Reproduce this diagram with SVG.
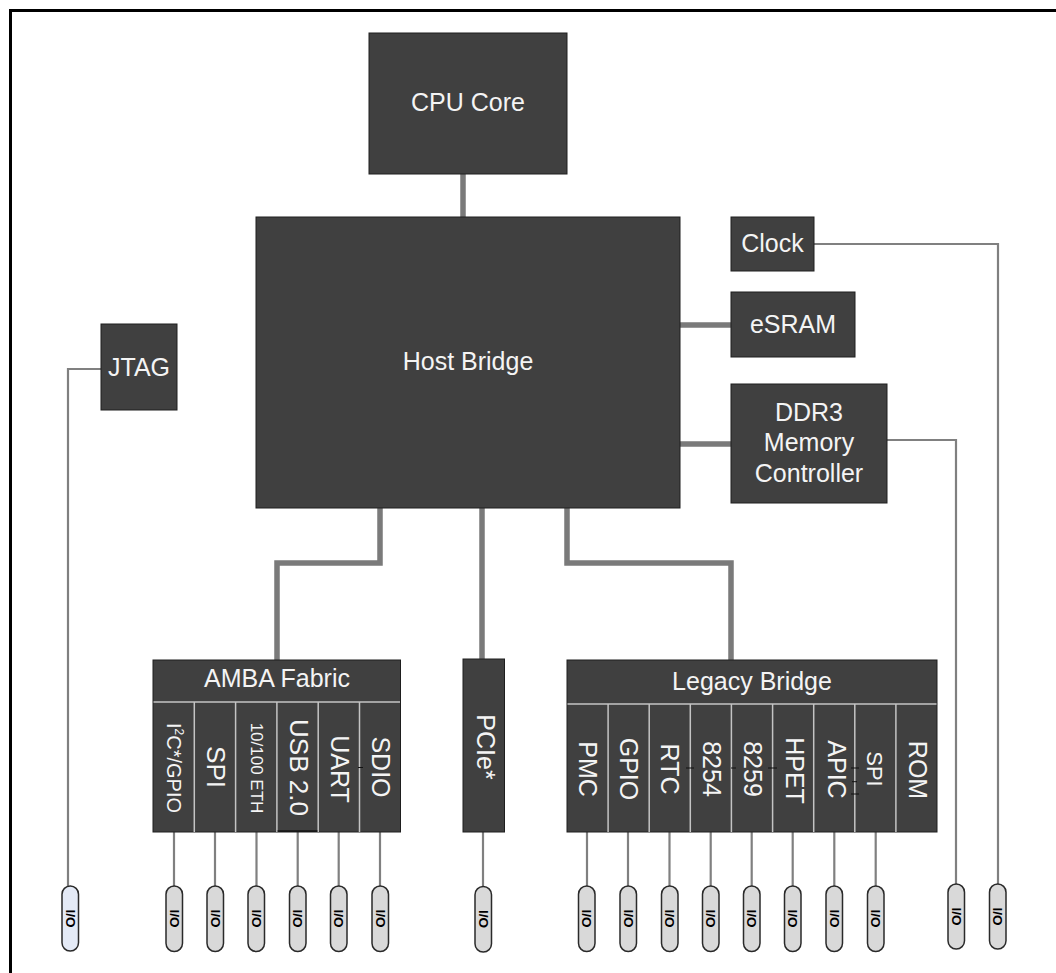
<svg xmlns="http://www.w3.org/2000/svg" width="1056" height="973" viewBox="0 0 1056 973">
<style>
.box{fill:#404040;stroke:#1e1e1e;stroke-width:1}
.t{font-family:"Liberation Sans",Arial,sans-serif;font-size:25px;fill:#f4f4f4;text-anchor:middle}
.sep{stroke:#c4c4c4;stroke-width:1.5;fill:none}
.bus{stroke:#7a7a7a;stroke-width:5.5;stroke-linecap:round;stroke-linejoin:miter;fill:none}
.wire{stroke:#808080;stroke-width:2.2;fill:none}
.pill{fill:#d9d9d9;stroke:#2a2a2a;stroke-width:1.5}
.pt{font-family:"Liberation Sans",Arial,sans-serif;font-size:13.5px;font-weight:bold;fill:#000;text-anchor:middle}
.tick{stroke:#111;stroke-width:1}
</style>
<rect width="1056" height="973" fill="#fff"/>
<path d="M10.5,973 V10.5 H1056" fill="none" stroke="#000" stroke-width="3"/>

<g id="connectors">
  <path class="bus" d="M463,174 V217"/>
  <path class="bus" d="M680,325 H731"/>
  <path class="bus" d="M680,444 H731"/>
  <path class="bus" d="M380,508 V563 H277 V660"/>
  <path class="bus" d="M482,508 V660"/>
  <path class="bus" d="M567,508 V563 H731 V660"/>
  <path class="wire" d="M814,244 H998 V884"/>
  <path class="wire" d="M887,440 H956 V884"/>
  <path class="wire" d="M101,369 H68 V886"/>
  <path class="wire" d="M483,832 V887"/>
  <path class="wire" d="M174,832 V886 M215,832 V886 M256.5,832 V886 M297.7,832 V886 M338.7,832 V886 M380,832 V886"/>
  <path class="wire" d="M587,832 V886 M628,832 V886 M669.5,832 V886 M710.7,832 V886 M751.7,832 V886 M792.7,832 V886 M834.3,832 V886 M875.7,832 V886"/>
</g>

<g id="cpu-core"><rect class="box" x="369" y="33" width="198" height="141"/><text class="t" x="468" y="111">CPU Core</text></g>
<g id="host-bridge"><rect class="box" x="256" y="217" width="424" height="291"/><text class="t" x="468" y="370">Host Bridge</text></g>
<g id="clock"><rect class="box" x="731" y="217" width="83" height="54"/><text class="t" x="772.5" y="252">Clock</text></g>
<g id="esram"><rect class="box" x="731" y="292" width="124" height="65"/><text class="t" x="793" y="333">eSRAM</text></g>
<g id="ddr3"><rect class="box" x="731" y="384" width="156" height="119"/><text class="t" x="809" y="421">DDR3</text><text class="t" x="809" y="451">Memory</text><text class="t" x="809" y="482">Controller</text></g>
<g id="jtag"><rect class="box" x="101" y="324" width="76" height="86"/><text class="t" x="139" y="376">JTAG</text></g>

<g id="amba-fabric">
  <rect class="box" x="153" y="660" width="247.5" height="172"/>
  <path class="sep" d="M153.5,702 H400 M194.3,702 V832 M235.6,702 V832 M276.9,702 V832 M318.2,702 V832 M359.5,702 V832"/>
  <path d="M277.5,831 H317.5" stroke="#000" stroke-width="1.2"/>
  <path class="tick" d="M358,767.5 H363"/>
  <text class="t" x="277" y="687">AMBA Fabric</text>
  <text class="t" style="font-size:20px" transform="translate(166.5,768) rotate(90)">I<tspan style="font-size:12px" dy="-8">2</tspan><tspan dy="8">C*/GPIO</tspan></text>
  <text class="t" style="font-size:26px" transform="translate(207.4,767) rotate(90)">SPI</text>
  <text class="t" style="font-size:17px" transform="translate(250.6,768) rotate(90)">10/100 ETH</text>
  <text class="t" style="font-size:26px" transform="translate(289.5,767.5) rotate(90)">USB 2.0</text>
  <text class="t" transform="translate(331.4,769) rotate(90)">UART</text>
  <text class="t" transform="translate(371.8,767) rotate(90)">SDIO</text>
</g>

<g id="pcie"><rect class="box" x="463" y="659" width="41.5" height="173"/><text class="t" transform="translate(476.5,747) rotate(90)">PCIe*</text></g>

<g id="legacy-bridge">
  <rect class="box" x="567" y="660" width="370" height="172"/>
  <path class="sep" d="M567.5,704 H936.5 M608.1,704 V832 M649.2,704 V832 M690.3,704 V832 M731.4,704 V832 M772.6,704 V832 M813.7,704 V832 M854.8,704 V832 M895.9,704 V832"/>
  <path class="tick" d="M686,768 H694 M731,768 H736 M768,768 H777 M851,768 H859 M852,781.7 H857 M851,794 H859"/>
  <text class="t" x="752" y="690">Legacy Bridge</text>
  <text class="t" transform="translate(579.2,769) rotate(90)">PMC</text>
  <text class="t" transform="translate(619.5,769) rotate(90)">GPIO</text>
  <text class="t" transform="translate(660.9,769) rotate(90)">RTC</text>
  <text class="t" transform="translate(703.2,769) rotate(90)">8254</text>
  <text class="t" transform="translate(744.2,769) rotate(90)">8259</text>
  <text class="t" transform="translate(786.2,770.5) rotate(90)">HPET</text>
  <text class="t" transform="translate(827.5,769.5) rotate(90)">APIC</text>
  <text class="t" style="font-size:22px" transform="translate(866.5,769) rotate(90)">SPI</text>
  <text class="t" transform="translate(909.2,770) rotate(90)">ROM</text>
</g>

<g id="io-pins">
  <rect x="62" y="886" width="16.5" height="65" rx="8.2" fill="#e4eaf6" stroke="#2a2a2a" stroke-width="1.5"/>
  <text class="pt" transform="translate(65.5,918.5) rotate(90)">I/O</text>
  <rect class="pill" x="166" y="886" width="16.5" height="65.5" rx="8.2"/><text class="pt" transform="translate(169.5,918.5) rotate(90)">I/O</text>
  <rect class="pill" x="207" y="886" width="16.5" height="65.5" rx="8.2"/><text class="pt" transform="translate(210.5,918.5) rotate(90)">I/O</text>
  <rect class="pill" x="248" y="886" width="16.5" height="65.5" rx="8.2"/><text class="pt" transform="translate(251.5,918.5) rotate(90)">I/O</text>
  <rect class="pill" x="289.5" y="886" width="16.5" height="65.5" rx="8.2"/><text class="pt" transform="translate(293,918.5) rotate(90)">I/O</text>
  <rect class="pill" x="330.5" y="886" width="16.5" height="65.5" rx="8.2"/><text class="pt" transform="translate(334,918.5) rotate(90)">I/O</text>
  <rect class="pill" x="372" y="886" width="16.5" height="65.5" rx="8.2"/><text class="pt" transform="translate(375.5,918.5) rotate(90)">I/O</text>
  <rect class="pill" x="475" y="886.5" width="16.5" height="65.5" rx="8.2"/><text class="pt" transform="translate(478.5,919) rotate(90)">I/O</text>
  <rect class="pill" x="578.5" y="886" width="16.5" height="65.5" rx="8.2"/><text class="pt" transform="translate(582,918.5) rotate(90)">I/O</text>
  <rect class="pill" x="620" y="886" width="16.5" height="65.5" rx="8.2"/><text class="pt" transform="translate(623.5,918.5) rotate(90)">I/O</text>
  <rect class="pill" x="661.5" y="886" width="16.5" height="65.5" rx="8.2"/><text class="pt" transform="translate(665,918.5) rotate(90)">I/O</text>
  <rect class="pill" x="702.5" y="886" width="16.5" height="65.5" rx="8.2"/><text class="pt" transform="translate(706,918.5) rotate(90)">I/O</text>
  <rect class="pill" x="743.5" y="886" width="16.5" height="65.5" rx="8.2"/><text class="pt" transform="translate(747,918.5) rotate(90)">I/O</text>
  <rect class="pill" x="784.5" y="886" width="16.5" height="65.5" rx="8.2"/><text class="pt" transform="translate(788,918.5) rotate(90)">I/O</text>
  <rect class="pill" x="826" y="886" width="16.5" height="65.5" rx="8.2"/><text class="pt" transform="translate(829.5,918.5) rotate(90)">I/O</text>
  <rect class="pill" x="867.5" y="886" width="16.5" height="65.5" rx="8.2"/><text class="pt" transform="translate(871,918.5) rotate(90)">I/O</text>
  <rect class="pill" x="948" y="884" width="16.5" height="65" rx="8.2"/><text class="pt" transform="translate(951.5,916.5) rotate(90)">I/O</text>
  <rect class="pill" x="989.5" y="884" width="16.5" height="65" rx="8.2"/><text class="pt" transform="translate(993,916.5) rotate(90)">I/O</text>
</g>
</svg>
